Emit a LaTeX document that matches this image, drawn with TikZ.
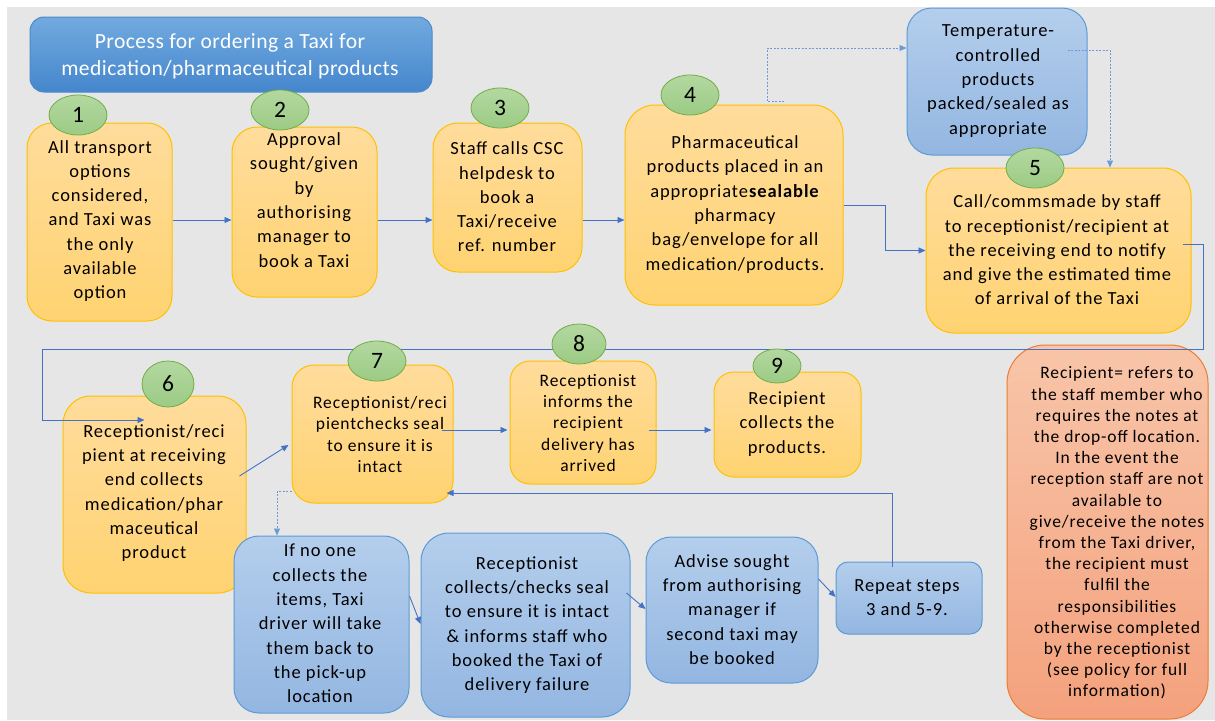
\documentclass[tikz,border=0pt]{standalone}
\usepackage{fontspec}
\setmainfont{Carlito}[LetterSpace=5]
\newfontfamily\titlefont{Carlito}[LetterSpace=2]
\newfontfamily\numfont{Carlito}
\usetikzlibrary{arrows.meta,shapes.geometric,fit,calc}
\definecolor{bgc}{HTML}{E6E6E6}
\definecolor{otop}{HTML}{FFDC9C}
\definecolor{obot}{HTML}{FFD371}
\definecolor{oborder}{HTML}{FFC000}
\definecolor{gtop}{HTML}{B3D8A0}
\definecolor{gbot}{HTML}{9CCB85}
\definecolor{gborder}{HTML}{70AD47}
\definecolor{btop}{HTML}{B4CEEC}
\definecolor{bbot}{HTML}{93B6E1}
\definecolor{bborder}{HTML}{5B9BD5}
\definecolor{ttop}{HTML}{72AADF}
\definecolor{tbot}{HTML}{4586CC}
\definecolor{tborder}{HTML}{4A8ACB}
\definecolor{ntop}{HTML}{F8C5A9}
\definecolor{nbot}{HTML}{F4A17D}
\definecolor{nborder}{HTML}{ED7D31}
\definecolor{lc}{HTML}{4472C4}
\definecolor{dlc}{HTML}{6C9BD6}
\begin{document}
\begin{tikzpicture}[x=1pt,y=-1pt,
  box/.style={inner sep=0pt, line width=1pt},
  obox/.style={box, draw=oborder, top color=otop, bottom color=obot},
  bbox/.style={box, draw=bborder, top color=btop, bottom color=bbot},
  nbox/.style={box, draw=nborder, top color=ntop, bottom color=nbot},
  tbox/.style={box, draw=tborder, top color=ttop, bottom color=tbot},
  num/.style={ellipse, draw=gborder, line width=0.8pt, top color=gtop, bottom color=gbot,
    minimum width=58pt, minimum height=40pt, inner sep=0pt, font=\numfont\fontsize{23.5}{23.5}\selectfont},
  txt/.style={align=center, inner sep=0pt, font=\fontsize{18.5}{24.3}\selectfont},
  stxt/.style={align=center, inner sep=0pt, font=\fontsize{17.5}{21.4}\selectfont},
  ntxt/.style={align=center, inner sep=0pt, font=\fontsize{17.5}{21.2}\selectfont},
  conn/.style={draw=lc, line width=0.9pt, -{Triangle[length=7pt,width=6pt]}},
  dconn/.style={draw=dlc, line width=0.9pt, dash pattern=on 2pt off 1.5pt, -{Triangle[length=7pt,width=6pt]}}]
\useasboundingbox (0,0) rectangle (1215,720);
\fill[bgc] (7,7) rectangle (1215,720);

% title
\node[tbox, rounded corners=14pt, fit={(30,17) (432,92)}] (title) {};
\node[align=center, inner sep=0pt, text=white, font=\titlefont\fontsize{21.6}{27}\selectfont] (ttl) at (230,56) {Process for ordering a Taxi for\\medication/pharmaceutical products};

% boxes
\node[obox, rounded corners=25pt, fit={(27,123) (172,321)}] (b1) {};
\node[obox, rounded corners=25pt, fit={(232,127) (377,297)}] (b2) {};
\node[obox, rounded corners=25pt, fit={(433,123) (582,272)}] (b3) {};
\node[obox, rounded corners=30pt, fit={(625,105) (843,305)}] (b4) {};
\node[bbox, rounded corners=25pt, fit={(907,8) (1087,155)}] (tmp) {};
\node[obox, rounded corners=28pt, fit={(926,168) (1191,333)}] (b5) {};
\node[obox, rounded corners=28pt, fit={(63,396) (246,593)}] (b6) {};
\node[obox, rounded corners=22pt, fit={(292,365) (453,503)}] (b7) {};
\node[obox, rounded corners=20pt, fit={(510,361) (656,484)}] (b8) {};
\node[obox, rounded corners=20pt, fit={(714,372) (861,477)}] (b9) {};
\node[bbox, rounded corners=25pt, fit={(234,536) (409,713)}] (b10) {};
\node[bbox, rounded corners=28pt, fit={(421,533) (630,717)}] (b11) {};
\node[bbox, rounded corners=25pt, fit={(646,537) (818,683)}] (b12) {};
\node[bbox, rounded corners=12pt, fit={(836,562) (982,634)}] (b13) {};
\node[nbox, rounded corners=38pt, fit={(1007,345) (1208,719)}] (note) {};

% texts
\node[txt] (t1) at (100,221) {All transport\\options\\considered,\\and Taxi was\\the only\\available\\option};
\node[txt] (t2) at (304,200) {Approval\\sought/given\\by\\authorising\\manager to\\book a Taxi};
\node[txt] (t3) at (507,197) {Staff calls CSC\\helpdesk to\\book a\\Taxi/receive\\ref. number};
\node[txt] (t4) at (735,204.5) {Pharmaceutical\\products placed in an\\appropriate\textbf{sealable}\\pharmacy\\bag/envelope for all\\medication/products.};
\node[txt] (ttmp) at (998,81) {Temperature-\\controlled\\products\\packed/sealed as\\appropriate};
\node[txt] (t5) at (1057,250) {Call/commsmade by staff\\to receptionist/recipient at\\the receiving end to notify\\and give the estimated time\\of arrival of the Taxi};
\node[txt] (t6) at (154,493) {Receptionist/reci\\pient at receiving\\end collects\\medication/phar\\maceutical\\product};
\node[stxt] (t7) at (380,434.5) {Receptionist/reci\\pientchecks seal\\to ensure it is\\intact};
\node[stxt] (t8) at (588,423) {Receptionist\\informs the\\recipient\\delivery has\\arrived};
\node[txt] (t9) at (787,424) {Recipient\\collects the\\products.};
\node[txt] (t10) at (320,623.5) {If no one\\collects the\\items, Taxi\\driver will take\\them back to\\the pick-up\\location};
\node[txt] (t11) at (527,625) {Receptionist\\collects/checks seal\\to ensure it is intact\\\& informs staff who\\booked the Taxi of\\delivery failure};
\node[txt] (t12) at (732,609.5) {Advise sought\\from authorising\\manager if\\second taxi may\\be booked};
\node[txt] (t13) at (907,597.5) {Repeat steps\\3 and 5-9.};
\node[ntxt] (tn) at (1117,533) {Recipient= refers to\\the staff member who\\requires the notes at\\the drop-off location.\\In the event the\\reception staff are not\\available to\\give/receive the notes\\from the Taxi driver,\\the recipient must\\fulfil the\\responsibilities\\otherwise completed\\by the receptionist\\(see policy for full\\information)};

% connectors
\draw[conn] (b1.east|-0,220) -- (b2.west|-0,220);
\draw[conn] (b2.east|-0,220) -- (b3.west|-0,220);
\draw[conn] (b3.east|-0,220) -- (b4.west|-0,220);
\draw[conn] (b4.east) -- ++(42,0) |- (b5.west);
\draw[dconn] ($(b4.north-|784,0)+(0,-3)$) -| (767,48) -- (tmp.west|-0,48);
\draw[dconn] ($(tmp.east|-0,50)+(-20,0)$) -| (b5.north-|1110,0);
\draw[conn] ($(b5.east|-0,244)+(-9,0)$) -| (1203,349) -| (42,420) -- ($(b6.west|-0,420)+(82,0)$);
\draw[conn] ($(b6.east|-0,476)+(-7,0)$) -- ($(b7.west|-0,445)+(-3,0)$);
\draw[conn] ($(b7.east|-0,430)+(-12,0)$) -- ($(b8.west|-0,430)+(-2,0)$);
\draw[conn] ($(b8.east|-0,430)+(-8,0)$) -- ($(b9.west|-0,430)+(-2,0)$);
\draw[dconn] (b7.west|-0,491) -| (b10.north-|277,0);
\draw[conn] (b10.east|-0,596) -- (b11.west|-0,624);
\draw[conn] ($(b11.east|-0,593)+(-4,0)$) -- (b12.west|-0,609);
\draw[conn] (b12.east|-0,579) -- (b13.west|-0,597);
\draw[conn] ($(b13.north-|892,0)+(0,5)$) |- ($(b7.east|-0,493)+(-7,0)$);

% step numbers
\node[num] (n1) at (78,115) {1};
\node[num] (n2) at (280,110) {2};
\node[num] (n3) at (500,108) {3};
\node[num] (n4) at (690,95) {4};
\node[num] (n5) at (1035,168) {5};
\node[num, minimum width=52pt, minimum height=46pt] (n6) at (168,384) {6};
\node[num] (n7) at (377,361) {7};
\node[num, minimum width=54pt] (n8) at (579,344) {8};
\node[num, minimum width=48pt, minimum height=34pt] (n9) at (777,366) {9};
\end{tikzpicture}
\end{document}
